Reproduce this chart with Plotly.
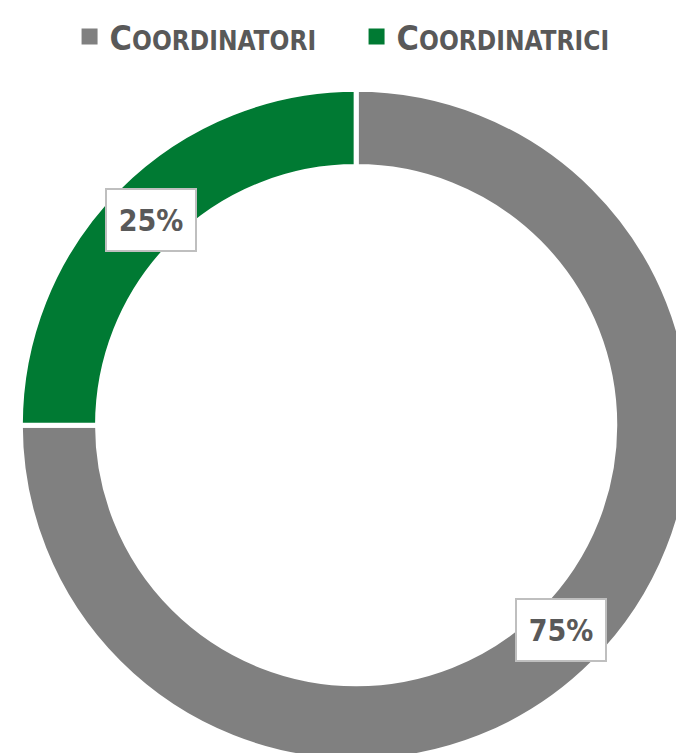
import numpy as np
import plotly.graph_objects as go

# Data
labels = ["Coordinatori", "Coordinatrici"]
values = [75, 25]
colors = ["#808080", "#007a33"]

FONT = "DejaVu Sans Condensed, Liberation Sans Narrow, sans-serif"
TXT = "#595959"
W, H = 684, 753
hole = 0.77
dom_x = [0.018, 1.0]
dom_y = [0.0, 0.892]

fig = go.Figure(go.Pie(
    labels=labels,
    values=values,
    marker=dict(colors=colors, line=dict(color="white", width=5)),
    hole=hole,
    sort=False,
    direction="clockwise",
    rotation=0,
    textinfo="none",
    hoverinfo="label+percent",
    domain=dict(x=dom_x, y=dom_y),
    showlegend=False,
))

# legend entries (square swatches) as empty traces
for lab, col in zip(labels, colors):
    fig.add_trace(go.Scatter(
        x=[None], y=[None], mode="markers",
        name=f"C<span style='font-size:26px'>{lab[1:].upper()}</span>",
        marker=dict(symbol="square", size=16, color=col),
    ))

# Percent labels in boxes, placed at the middle of each ring slice
cx = (dom_x[0] + dom_x[1]) / 2 * W
cy = (dom_y[0] + dom_y[1]) / 2 * H
radius = min((dom_x[1] - dom_x[0]) * W, (dom_y[1] - dom_y[0]) * H) / 2
r_mid = radius * (1 + hole) / 2 * 0.975
total = sum(values)
start = 0.0
for v in values:
    mid = (start + v / 2) / total * 2 * np.pi  # clockwise from top
    start += v
    px = cx + r_mid * np.sin(mid)
    py = cy + r_mid * np.cos(mid)
    fig.add_annotation(
        x=px / W, y=py / H, xref="paper", yref="paper",
        xanchor="center", yanchor="middle",
        text=f"{round(v / total * 100)}%",
        showarrow=False,
        font=dict(family=FONT, size=30, color=TXT, weight="bold"),
        bgcolor="white", bordercolor="#bfbfbf", borderwidth=2,
        width=88, height=60, borderpad=0,
    )

fig.update_layout(
    width=W, height=H,
    margin=dict(l=0, r=0, t=0, b=0),
    paper_bgcolor="white",
    plot_bgcolor="white",
    xaxis=dict(visible=False),
    yaxis=dict(visible=False),
    showlegend=True,
    legend=dict(
        orientation="h", x=0.09, xanchor="left", y=1.0, yanchor="top",
        font=dict(family=FONT, size=34, color=TXT, weight="bold"),
        itemwidth=30, entrywidth=242, entrywidthmode="pixels",
    ),
)

fig.write_html("out.html")
